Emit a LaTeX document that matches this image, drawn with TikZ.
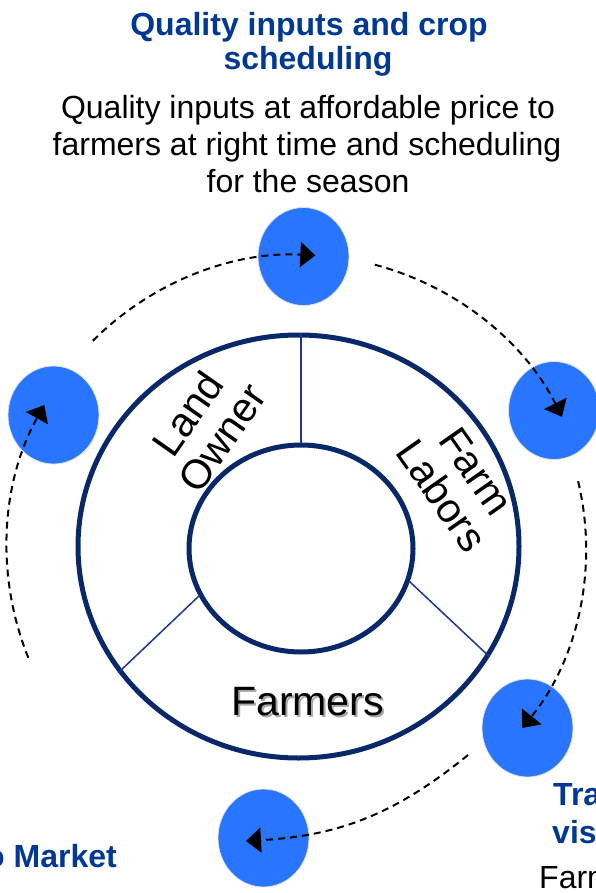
\documentclass[tikz,border=0pt]{standalone}
\usepackage{fontspec}
\setmainfont{Liberation Sans}
\usetikzlibrary{shapes.geometric,arrows.meta,calc}
\definecolor{ttl}{RGB}{0,56,148}
\definecolor{dotblue}{RGB}{40,118,255}
\definecolor{ring}{RGB}{8,40,105}
\definecolor{divl}{RGB}{25,55,145}
\begin{document}
\begin{tikzpicture}[x=1pt,y=1pt,
  dot/.style={ellipse, fill=dotblue, draw=black!12, line width=0.8pt, minimum width=91pt, minimum height=98pt, inner sep=0pt},
  flow/.style={draw=black, line width=2pt, dash pattern=on 7pt off 5pt, -{Triangle[length=15pt,width=25pt]}},
  ringline/.style={ellipse, draw=ring, line width=5pt, inner sep=0pt},
  divider/.style={draw=divl, line width=1.5pt},
  ttltext/.style={text=ttl, font=\fontsize{32}{36}\selectfont\bfseries, anchor=base, inner sep=0pt},
  bodytext/.style={text=black, font=\fontsize{32}{37}\selectfont, anchor=base, inner sep=0pt},
  ringtext/.style={font=\fontsize{41}{42}\selectfont, align=center, inner sep=0pt}
]
\useasboundingbox (0,0) rectangle (596,-893);
\clip (0,0) rectangle (596,-893);

% titles
\node[ttltext] (t1) at (309,-36) {Quality inputs and crop};
\node[ttltext] (t2) at (308,-70) {scheduling};
\node[bodytext] (b1) at (308,-119) {Quality inputs at affordable price to};
\node[bodytext] (b2) at (307,-156) {farmers at right time and scheduling};
\node[bodytext] (b3) at (308,-193) {for the season};

% ring
\node[ringline, minimum width=441pt, minimum height=423pt] (outer) at (298.5,-546.5) {};
\node[ringline, minimum width=224pt, minimum height=207pt] (inner) at (301,-548.5) {};
\draw[divider] (inner.north) -- (inner.north |- outer.north);
\draw[divider] (inner.205) -- (outer.215);
\draw[divider] (inner.-17) -- (outer.-30.5);

\node[ringtext, rotate=55] (land) at (204.5,-425.5) {Land\\Owner};
\node[ringtext, rotate=-55] (labor) at (459,-483.5) {Farm\\Labors};
\node[anchor=base, inner sep=0pt, font=\fontsize{41}{42}\selectfont, text=black!35] (farmsh) at (309.5,-717) {Farmers};
\node[anchor=base, inner sep=0pt, font=\fontsize{41}{42}\selectfont] (farmers) at (307.5,-715) {Farmers};

% blue dots
\node[dot] (d1) at (303.5,-256.5) {};
\node[dot] (d2) at (554,-410.5) {};
\node[dot] (d3) at (527.5,-728) {};
\node[dot] (d4) at (263.5,-838) {};
\node[dot] (d5) at (53.5,-415) {};

% dashed cycle
\coordinate (O) at (300,-548);
\coordinate (a1) at ($(O)+(135:293)$);
\coordinate (a2) at ($(O)+(75.2:293)$);
\coordinate (a3) at ($(O)+(13.5:286)$);
\coordinate (a4) at (468,-755);
\coordinate (t4) at (246,-841);
\coordinate (a5) at ($(O)+(202:293)$);
\draw[flow] (a1) arc[start angle=135, end angle=87, radius=293pt];
\draw[flow] (a2) arc[start angle=75.2, end angle=26.6, radius=293pt];
\draw[flow] (a3) arc[start angle=13.5, end angle=-39, radius=286pt];
\draw[flow] (a4) to[bend left=18] (t4);
\draw[flow] (a5) arc[start angle=202, end angle=150.8, radius=293pt];

% cut-off texts at the edges
\node[ttltext, anchor=base west] (tra) at (553,-805) {Tra};
\node[ttltext, anchor=base west] (vis) at (552,-843) {vis};
\node[bodytext, anchor=base west] (farm) at (539,-888) {Farm};
\node[ttltext, anchor=base east] (mkt) at (117,-867) {to Market};
\end{tikzpicture}
\end{document}
